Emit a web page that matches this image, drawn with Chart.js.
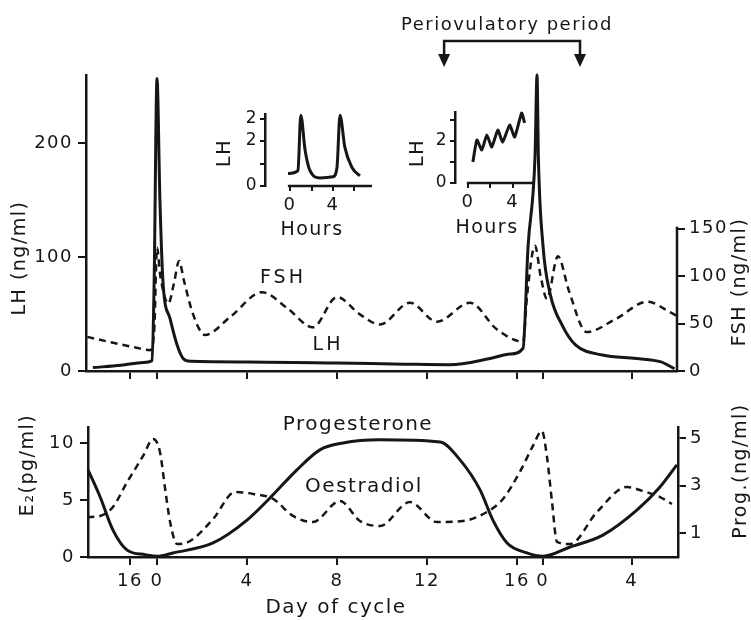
<!DOCTYPE html>
<html>
<head>
<meta charset="utf-8">
<script src="https://cdn.jsdelivr.net/npm/chart.js@4.4.0/dist/chart.umd.min.js"></script>
<style>
  body { margin: 0; background: #fff; }
  #wrap { position: relative; width: 751px; height: 620px; }
  #wrap canvas { position: absolute; left: 0; top: 0; }
</style>
</head>
<body>
<div id="wrap">
  <canvas id="hormones" width="751" height="620"></canvas>
  <canvas id="steroids" width="751" height="620"></canvas>
  <canvas id="pulses1" width="751" height="620"></canvas>
  <canvas id="pulses2" width="751" height="620"></canvas>
</div>
<script>
// days counted from the first LH peak; the next cycle starts again at ~17.15
const dayTicks = [-1.2, 0, 4, 8, 12, 16, 17.15, 21.1];
const dayLabels = ['16', '0', '4', '8', '12', '16', '0', '4'];
const periovulatory = [12.76, 18.8];

const lhDays = [-2.85, -1.6, -0.6, -0.22, -0.13, 0, 0.13, 0.27, 0.58, 0.89, 1.16, 1.5, 4, 8, 11, 13, 14.8, 15.7, 16.27, 16.49, 16.8, 16.89, 16.95, 17.16, 17.47, 18.04, 18.6, 19.8, 21.3, 22.4, 23.0];
const lhValues = [3, 5, 7.5, 9, 75, 257, 150, 77, 46, 23, 11, 8.5, 8, 7, 6, 5.5, 11, 15, 20, 109, 188, 260, 188, 109, 68, 39, 23, 14, 11, 8, 2];

const fshDays = [-3.1, -2, -1, -0.3, -0.12, 0, 0.15, 0.5, 0.75, 0.98, 1.2, 1.6, 2.13, 3.3, 4.67, 5.8, 6.93, 8.0, 9.0, 9.91, 11.24, 12.44, 13.91, 15.1, 16.27, 16.45, 16.8, 17.05, 17.33, 17.82, 18.3, 19.1, 20.4, 21.8, 22.8, 23.1];
const fshValues = [36, 30, 25, 22, 45, 130, 100, 71, 92, 116, 95, 60, 38, 58, 83, 66, 46, 78, 60, 49, 72, 52, 72, 44, 31, 80, 132, 100, 76, 121, 85, 41, 55, 73, 62, 58];

const progDays = [-3.07, -2.53, -1.96, -1.33, -0.53, 0, 0.71, 2.49, 4.0, 5.02, 6.22, 7.24, 8.27, 9.91, 12.58, 13.47, 14.36, 14.93, 15.56, 16.44, 17.16, 18.36, 19.82, 21.33, 22.36, 23.11];
const progValues = [3.66, 2.52, 1.13, 0.29, 0.1, 0.03, 0.17, 0.59, 1.55, 2.48, 3.66, 4.5, 4.79, 4.92, 4.83, 4.08, 2.82, 1.55, 0.59, 0.17, 0.03, 0.42, 0.92, 1.97, 2.94, 3.87];

const e2Days = [-3.1, -2.53, -1.96, -1.33, -0.62, -0.18, 0.13, 0.36, 0.58, 0.89, 1.47, 2.49, 3.47, 4.27, 5.16, 6.04, 6.93, 8.13, 9.02, 9.91, 11.24, 12.44, 13.6, 14.67, 15.38, 16.13, 16.71, 17.11, 17.33, 17.56, 17.78, 18.36, 19.56, 20.89, 21.6, 22.36, 22.89];
const e2Values = [3.5, 3.6, 4.39, 6.58, 8.86, 10.35, 9.2, 5.96, 3.07, 1.14, 1.4, 3.33, 5.7, 5.53, 5.09, 3.6, 3.07, 4.91, 3.16, 2.72, 4.82, 3.07, 3.16, 3.95, 5.09, 7.46, 9.74, 11.05, 8.86, 4.82, 1.32, 1.14, 3.95, 6.14, 5.79, 5.26, 4.65];

// the two small insets: LH pulses over a few hours
const pulseHours1 = [-0.19, 0.74, 1.0, 1.4, 1.86, 2.8, 4.0, 4.37, 4.65, 5.1, 5.77, 6.5];
const pulseLH1 = [0.55, 0.68, 3.15, 1.6, 0.68, 0.36, 0.41, 0.82, 3.15, 1.73, 0.82, 0.45];
const pulseHours2 = [0.44, 0.8, 1.24, 1.69, 2.13, 2.67, 3.11, 3.73, 4.18, 4.8, 5.07];
const pulseLH2 = [1.0, 2.05, 1.57, 2.29, 1.71, 2.52, 1.95, 2.76, 2.19, 3.33, 2.86];

const lhTicks = [0, 100, 200];
const fshTicks = [0, 50, 100, 150];
const e2Ticks = [0, 5, 10];
const progTicks = [1, 3, 5];
const hourTicks1 = [0, 2, 4, 6];
const hourLabels1 = ['0', '', '4', ''];
const hourTicks2 = [0, 2, 4];
const hourLabels2 = ['0', '', '4'];
const pulseTicks = [0, 1, 2, 3];
const pulseLabels1 = ['0', '', '2', '2'];
const pulseLabels2 = ['0', '', '2', ''];

const ink = '#161616';
const font = '"DejaVu Sans", sans-serif';
Chart.defaults.font.family = font;
Chart.defaults.color = ink;

function pts(xs, ys) {
    return xs.map((x, i) => ({ x: x, y: ys[i] }));
}

function fixedTicks(values) {
    return s => { s.ticks = values.map(v => ({ value: v })); };
}

function solid(data, axis) {
    return { data: data, yAxisID: axis, borderColor: ink, borderWidth: 3, pointRadius: 0, cubicInterpolationMode: 'monotone', clip: false };
}

function dashed(data, axis) {
    return { data: data, yAxisID: axis, borderColor: ink, borderWidth: 2.5, borderDash: [7, 5], pointRadius: 0, cubicInterpolationMode: 'monotone', clip: false };
}

const gridOpts = { drawOnChartArea: false, tickLength: 8, color: ink, lineWidth: 2 };
const borderOpts = { color: ink, width: 2.5 };

// the old lettering is wide and spaced out
const spacing = {
    id: 'spacing',
    beforeDraw(chart) {
        chart.ctx.letterSpacing = '1.5px';
    }
};

// free text (axis titles, curve names)
const textPlugin = {
    id: 'texts',
    afterDraw(chart, args, opts) {
        const ctx = chart.ctx;
        (opts.items || []).forEach(t => {
            ctx.save();
            ctx.translate(t.x, t.y);
            if (t.rot) ctx.rotate(t.rot * Math.PI / 180);
            ctx.font = (t.size || 19) + 'px ' + font;
            ctx.letterSpacing = (t.ls === undefined ? 1.5 : t.ls) + 'px';
            ctx.fillStyle = ink;
            ctx.textAlign = 'center';
            ctx.textBaseline = 'middle';
            ctx.fillText(t.text, 0, 0);
            ctx.restore();
        });
    }
};

// right FSH axis only runs from 0 to 150, plus the periovulatory bracket
const topExtras = {
    id: 'topExtras',
    afterDraw(chart) {
        const ctx = chart.ctx;
        const x = chart.scales.x;
        const yF = chart.scales.yFSH;
        ctx.save();
        ctx.strokeStyle = ink;
        ctx.fillStyle = ink;
        ctx.lineWidth = 2.5;
        ctx.beginPath();
        ctx.moveTo(chart.chartArea.right, yF.getPixelForValue(0));
        ctx.lineTo(chart.chartArea.right, yF.getPixelForValue(150) - 2);
        ctx.stroke();

        const x1 = x.getPixelForValue(periovulatory[0]);
        const x2 = x.getPixelForValue(periovulatory[1]);
        ctx.beginPath();
        ctx.moveTo(x1, 56);
        ctx.lineTo(x1, 41);
        ctx.lineTo(x2, 41);
        ctx.lineTo(x2, 56);
        ctx.stroke();
        [x1, x2].forEach(px => {
            ctx.beginPath();
            ctx.moveTo(px - 6, 54);
            ctx.lineTo(px + 6, 54);
            ctx.lineTo(px, 67);
            ctx.closePath();
            ctx.fill();
        });
        ctx.restore();
    }
};

// hours axis of the insets starts a little right of the LH axis
const hoursLine = {
    id: 'hoursLine',
    afterDraw(chart, args, opts) {
        const ctx = chart.ctx;
        const x = chart.scales.x;
        ctx.save();
        ctx.strokeStyle = ink;
        ctx.lineWidth = 2.5;
        ctx.beginPath();
        ctx.moveTo(x.getPixelForValue(opts.from), chart.chartArea.bottom);
        ctx.lineTo(chart.chartArea.right, chart.chartArea.bottom);
        ctx.stroke();
        ctx.restore();
    }
};

const base = {
    responsive: false,
    animation: false,
    events: [],
};

new Chart(document.getElementById('hormones'), {
    type: 'line',
    data: {
        datasets: [
            solid(pts(lhDays, lhValues), 'yLH'),
            dashed(pts(fshDays, fshValues), 'yFSH')
        ]
    },
    options: {
        ...base,
        layout: { padding: { top: 75, left: 0, right: 0, bottom: 219 } },
        plugins: {
            legend: { display: false },
            tooltip: { enabled: false },
            texts: {
                items: [
                    { text: 'LH (ng/ml)', x: 20, y: 258, rot: -90 },
                    { text: 'FSH (ng/ml)', x: 740, y: 282, rot: -90 },
                    { text: 'FSH', x: 283, y: 278, ls: 3 },
                    { text: 'LH', x: 328, y: 345, ls: 3 },
                    { text: 'Periovulatory period', x: 507, y: 25, size: 18 }
                ]
            }
        },
        scales: {
            x: {
                type: 'linear', min: -3.156, max: 23.111,
                afterFit: s => { s.height = 30; },
                afterBuildTicks: fixedTicks(dayTicks),
                ticks: { callback: () => '', autoSkip: false, maxRotation: 0 },
                grid: gridOpts, border: borderOpts
            },
            yLH: {
                position: 'left', min: 0, max: 260,
                afterFit: s => { s.width = 86; },
                afterBuildTicks: fixedTicks(lhTicks),
                ticks: { font: { size: 18 }, padding: 5 },
                grid: gridOpts, border: borderOpts
            },
            yFSH: {
                position: 'right', min: 0, max: 312,
                afterFit: s => { s.width = 74; },
                afterBuildTicks: fixedTicks(fshTicks),
                ticks: { font: { size: 18 }, padding: 4 },
                grid: gridOpts, border: { display: false }
            }
        }
    },
    plugins: [spacing, textPlugin, topExtras]
});

new Chart(document.getElementById('steroids'), {
    type: 'line',
    data: {
        datasets: [
            solid(pts(progDays, progValues), 'yProg'),
            dashed(pts(e2Days, e2Values), 'yE2')
        ]
    },
    options: {
        ...base,
        layout: { padding: { top: 427, left: 0, right: 0, bottom: 18 } },
        plugins: {
            legend: { display: false },
            tooltip: { enabled: false },
            texts: {
                items: [
                    { text: 'E\u2082(pg/ml)', x: 28, y: 465, rot: -90 },
                    { text: 'Prog.(ng/ml)', x: 741, y: 471, rot: -90 },
                    { text: 'Progesterone', x: 358, y: 425, size: 20 },
                    { text: 'Oestradiol', x: 364, y: 487, size: 20 },
                    { text: 'Day of cycle', x: 336, y: 608, size: 20 }
                ]
            }
        },
        scales: {
            x: {
                type: 'linear', min: -3.07, max: 23.16,
                afterFit: s => { s.height = 45; },
                afterBuildTicks: fixedTicks(dayTicks),
                ticks: { callback: (v, i) => dayLabels[i], font: { size: 18 }, padding: 6, autoSkip: false, maxRotation: 0 },
                grid: gridOpts, border: borderOpts
            },
            yE2: {
                position: 'left', min: 0, max: 11.4,
                afterFit: s => { s.width = 88; },
                afterBuildTicks: fixedTicks(e2Ticks),
                ticks: { font: { size: 18 }, padding: 5 },
                grid: gridOpts, border: borderOpts
            },
            yProg: {
                position: 'right', min: 0, max: 5.46,
                afterFit: s => { s.width = 73; },
                afterBuildTicks: fixedTicks(progTicks),
                ticks: { font: { size: 18 }, padding: 4 },
                grid: gridOpts, border: borderOpts
            }
        }
    },
    plugins: [spacing, textPlugin]
});

function inset(id, hours, lh, smooth, area, xRange, yMax, hTicks, hLabels, yLabels, from, texts) {
    const line = { data: pts(hours, lh), borderColor: ink, borderWidth: 3, pointRadius: 0, clip: false };
    if (smooth) {
        line.cubicInterpolationMode = 'monotone';
    } else {
        line.tension = 0.15;
        line.borderJoinStyle = 'round';
    }
    return new Chart(document.getElementById(id), {
        type: 'line',
        data: { datasets: [line] },
        options: {
            ...base,
            layout: { padding: { left: area.left - 20, top: area.top, right: 751 - area.right, bottom: 620 - area.bottom - 24 } },
            plugins: {
                legend: { display: false },
                tooltip: { enabled: false },
                texts: { items: texts },
                hoursLine: { from: from }
            },
            scales: {
                x: {
                    type: 'linear', min: xRange[0], max: xRange[1],
                    afterFit: s => { s.height = 24; },
                    afterBuildTicks: fixedTicks(hTicks),
                    ticks: { callback: (v, i) => hLabels[i], font: { size: 18 }, padding: 4, autoSkip: false, maxRotation: 0 },
                    grid: { drawOnChartArea: false, tickLength: 5, color: ink, lineWidth: 2 },
                    border: { display: false }
                },
                y: {
                    min: 0, max: yMax,
                    afterFit: s => { s.width = 20; },
                    afterBuildTicks: fixedTicks(pulseTicks),
                    ticks: { callback: (v, i) => yLabels[i], font: { size: 17 }, padding: 2 },
                    grid: { drawOnChartArea: false, tickLength: 5, color: ink, lineWidth: 2 },
                    border: borderOpts
                }
            }
        },
        plugins: [spacing, textPlugin, hoursLine]
    });
}

inset('pulses1', pulseHours1, pulseLH1, true, { left: 265, right: 372, top: 114, bottom: 186 }, [-2.33, 7.63], 3.2,
    hourTicks1, hourLabels1, pulseLabels1, -0.2,
    [{ text: 'LH', x: 225, y: 153, rot: -90 }, { text: 'Hours', x: 312, y: 230 }]);

inset('pulses2', pulseHours2, pulseLH2, false, { left: 455, right: 533, top: 112, bottom: 183 }, [-1.16, 5.82], 3.38,
    hourTicks2, hourLabels2, pulseLabels2, -0.1,
    [{ text: 'LH', x: 418, y: 153, rot: -90 }, { text: 'Hours', x: 487, y: 228 }]);
</script>
</body>
</html>
